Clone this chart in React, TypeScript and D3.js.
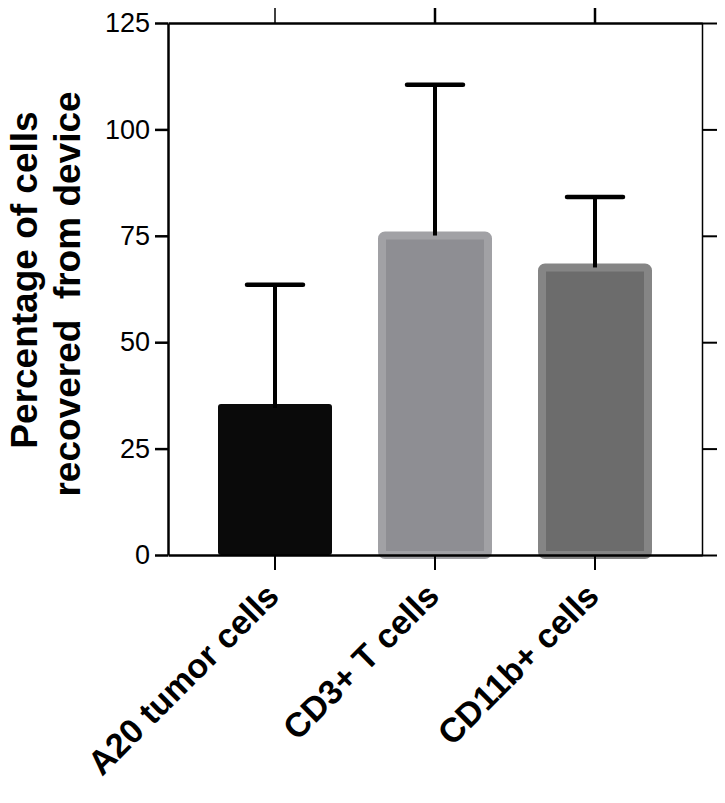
import { useEffect, useRef } from "react";
import * as d3 from "d3";

const categories = ["A20 tumor cells", "CD3+ T cells", "CD11b+ cells"];
const means = [35.5, 76, 68.5];
const errors = [28, 34.5, 15.6];
const yTicks = [0, 25, 50, 75, 100, 125];
const fills = ["#0a0a0a", "#8e8e93", "#6c6c6c"];
const borders = ["#0a0a0a", "#a1a1a5", "#858585"];

const width = 725;
const height = 803;
const left = 168;
const right = 702;
const top = 23;
const bottom = 555;
const font = "'Liberation Sans', Arial, Helvetica, sans-serif";

export default function App() {
    const svgRef = useRef<SVGSVGElement | null>(null);

    useEffect(() => {
        const svg = d3.select(svgRef.current);
        svg.selectAll("*").remove();

        const x = d3.scaleBand<string>()
            .domain(categories)
            .range([left, right])
            .paddingInner(0.2875)
            .paddingOuter(0.3125);
        const y = d3.scaleLinear().domain([0, 125]).range([bottom, top]);

        // bars
        const bw = 8;
        categories.forEach((c, i) => {
            const x0 = x(c)!;
            const sw = i === 0 ? 0 : bw;
            svg.append("rect")
                .attr("x", x0 + sw / 2)
                .attr("y", y(means[i]) + sw / 2)
                .attr("width", x.bandwidth() - sw)
                .attr("height", bottom - y(means[i]) - sw / 2)
                .attr("rx", 3)
                .attr("fill", fills[i])
                .attr("stroke", i === 0 ? "none" : borders[i])
                .attr("stroke-width", sw);
        });

        // error bars (upper only)
        categories.forEach((c, i) => {
            const cx = x(c)! + x.bandwidth() / 2;
            const yTop = y(means[i] + errors[i]);
            svg.append("line")
                .attr("x1", cx).attr("x2", cx)
                .attr("y1", y(means[i]) + 4).attr("y2", yTop)
                .attr("stroke", "#000").attr("stroke-width", 4);
            svg.append("line")
                .attr("x1", cx - 28).attr("x2", cx + 28)
                .attr("y1", yTop).attr("y2", yTop)
                .attr("stroke", "#000").attr("stroke-width", 4.5)
                .attr("stroke-linecap", "round");
        });

        // axes
        const gl = svg.append("g")
            .attr("transform", `translate(${left},0)`)
            .call(d3.axisLeft(y).tickValues(yTicks).tickSize(13).tickPadding(5).tickSizeOuter(0));
        gl.select(".domain").attr("stroke-width", 2.5);
        gl.selectAll(".tick line").attr("stroke-width", 2.5);
        gl.selectAll(".tick text")
            .style("font-family", font)
            .style("font-size", "27px")
            .attr("fill", "#000");

        const gr = svg.append("g")
            .attr("transform", `translate(${right},0)`)
            .call(d3.axisRight(y).tickValues(yTicks).tickSize(15).tickSizeOuter(0).tickFormat(() => ""));
        gr.select(".domain").attr("stroke-width", 1.5);
        gr.selectAll(".tick line").attr("stroke-width", 2);

        const gt = svg.append("g")
            .attr("transform", `translate(0,${top})`)
            .call(d3.axisTop(x).tickSize(15).tickSizeOuter(0).tickFormat(() => ""));
        gt.select(".domain").attr("stroke-width", 2.5);
        gt.selectAll(".tick line").attr("stroke-width", (_d, i) => (i === 0 ? 1.5 : 2.5));

        const gb = svg.append("g")
            .attr("transform", `translate(0,${bottom})`)
            .call(d3.axisBottom(x).tickSize(15).tickSizeOuter(0).tickFormat(() => ""));
        gb.select(".domain").attr("stroke-width", 2.5);
        gb.selectAll(".tick line").attr("stroke-width", 2);

        // category labels
        categories.forEach((c) => {
            const cx = x(c)! + x.bandwidth() / 2;
            svg.append("text")
                .attr("transform", `translate(${cx + 6},598) rotate(-45)`)
                .attr("text-anchor", "end")
                .style("font-family", font)
                .style("font-size", "34px")
                .style("font-weight", "bold")
                .text(c);
        });

        // y title
        svg.append("text")
            .attr("transform", `translate(37,280) rotate(-90)`)
            .attr("text-anchor", "middle")
            .style("font-family", font)
            .style("font-size", "37px")
            .style("font-weight", "bold")
            .text("Percentage of cells");
        svg.append("text")
            .attr("transform", `translate(80,294) rotate(-90)`)
            .attr("text-anchor", "middle")
            .style("font-family", font)
            .style("font-size", "37px")
            .style("font-weight", "bold")
            .style("white-space", "pre")
            .text("recovered  from device");
    }, []);

    return (
        <svg
            ref={svgRef}
            width={width}
            height={height}
            style={{ position: "absolute", left: 0, top: 0, background: "#fff" }}
        />
    );
}
